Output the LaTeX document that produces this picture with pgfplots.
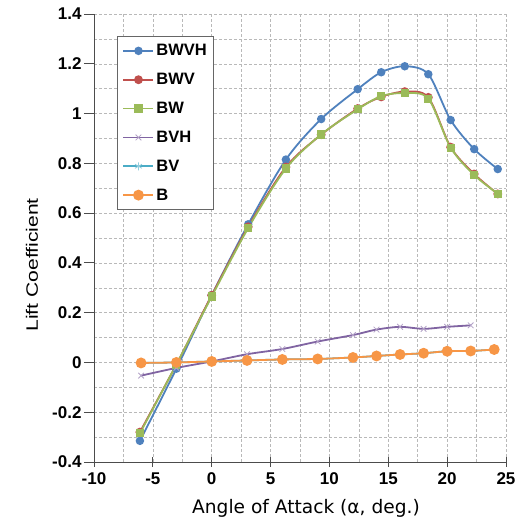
\documentclass[border=0pt]{standalone}
\usepackage{pgfplots}
\pgfplotsset{compat=1.18}
\usepackage{fontspec}
\setmainfont{Liberation Sans}
\newfontfamily\labfont{DejaVu Sans}
\definecolor{cBWVH}{HTML}{4F81BD}
\definecolor{cBWV}{HTML}{C0504D}
\definecolor{cBW}{HTML}{9BBB59}
\definecolor{cBVH}{HTML}{8064A2}
\definecolor{cBV}{HTML}{4BACC6}
\definecolor{cB}{HTML}{F79646}
\begin{document}
\begin{tikzpicture}
\useasboundingbox (-94pt,-59pt) rectangle (434pt,462pt);
\begin{axis}[
  scale only axis, width=412pt, height=448pt,
  at={(0,0)}, anchor=south west,
  xmin=-10, xmax=25, ymin=-0.4, ymax=1.4,
  xtick={-10,-5,...,25}, ytick={-0.4,-0.2,...,1.4},
  minor x tick num=1, minor y tick num=1,
  grid=both,
  major grid style={densely dashed, gray!55, line width=0.5pt},
  minor grid style={densely dashed, gray!55, line width=0.5pt},
  axis x line*=bottom, axis y line*=left,
  axis line style={black!70, line width=0.8pt, -},
  x tick style={black!70, line width=0.8pt},
  y tick style={black!70, line width=0.8pt},
  minor tick length=0pt,
  major tick length=10pt,
  xtick align=center, ytick align=outside,
  tick label style={font=\fontsize{17}{20}\selectfont\bfseries},
  /pgf/number format/assume math mode=true,
  yticklabel style={/pgf/number format/fixed, /pgf/number format/precision=1, xshift=1pt},
  xticklabel style={yshift=-2pt},
  scaled y ticks=false,
  xlabel={\labfont\fontsize{18.6}{22}\selectfont Angle of Attack (α, deg.)},
  ylabel={\scalebox{1.28}[1]{\fontsize{16.5}{20}\selectfont Lift Coefficient}},
  xlabel style={at={(axis description cs:0.5,0)}, anchor=center, yshift=-46pt, xshift=6pt},
  ylabel style={at={(axis description cs:-0.1505,0.44)}, anchor=center},
  legend style={at={(rel axis cs:0.056,0.951)}, anchor=north west,
    draw=black!60, line width=1pt, fill=white,
    font=\fontsize{16.5}{18}\selectfont\bfseries,
    inner xsep=5pt, inner ysep=6pt,
    row sep=12pt},
  legend cell align=left,
  legend image code/.code={\draw[mark repeat=2,mark phase=2,#1] plot coordinates {(0pt,0pt) (15pt,0pt) (30pt,0pt)};},
  every axis plot/.append style={line width=1.8pt, smooth, tension=0.5},
]
\addplot[cBWVH, mark=*, mark size=3.3pt] coordinates {
(-6.1,-0.315) (-3,-0.025) (0,0.27) (3.1,0.555) (6.3,0.815) (9.3,0.978) (12.4,1.098) (14.4,1.166) (16.4,1.19) (18.4,1.158) (20.3,0.974) (22.3,0.857) (24.3,0.777)};
\addlegendentry{BWVH}
\addplot[cBWV, mark=*, mark size=3.5pt] coordinates {
(-6.1,-0.28) (-3,-0.008) (0,0.27) (3.1,0.545) (6.3,0.785) (9.3,0.915) (12.4,1.02) (14.4,1.067) (16.4,1.088) (18.4,1.065) (20.3,0.865) (22.3,0.757) (24.3,0.677)};
\addlegendentry{BWV}
\addplot[cBW, mark=square*, mark size=3.2pt] coordinates {
(-6.1,-0.285) (-3,-0.008) (0,0.265) (3.1,0.54) (6.3,0.779) (9.3,0.916) (12.4,1.017) (14.4,1.07) (16.4,1.082) (18.4,1.06) (20.3,0.863) (22.3,0.753) (24.3,0.678)};
\addlegendentry{BW}
\addplot[cBVH, mark=x, mark size=4pt, mark options={line width=0.8pt, cBVH!60}] coordinates {
(-6,-0.053) (-3,-0.022) (0,0.004) (3,0.033) (6,0.054) (9,0.084) (12,0.11) (14,0.132) (16,0.143) (18,0.135) (20,0.143) (22,0.149)};
\addlegendentry{BVH}
\addplot[cBV, mark=asterisk, mark size=4pt, mark options={line width=0.8pt, cBV!60}] coordinates {
(-6,-0.002) (-3,0) (0,0.004) (3,0.008) (6,0.012) (9,0.014) (12,0.02) (14,0.026) (16,0.032) (18,0.037) (20,0.045) (22,0.046) (24,0.052)};
\addlegendentry{BV}
\addplot[cB, mark=*, mark size=4.5pt] coordinates {
(-6,-0.002) (-3,0) (0,0.004) (3,0.008) (6,0.012) (9,0.014) (12,0.02) (14,0.026) (16,0.032) (18,0.037) (20,0.045) (22,0.046) (24,0.052)};
\addlegendentry{B}
\end{axis}
\end{tikzpicture}
\end{document}
